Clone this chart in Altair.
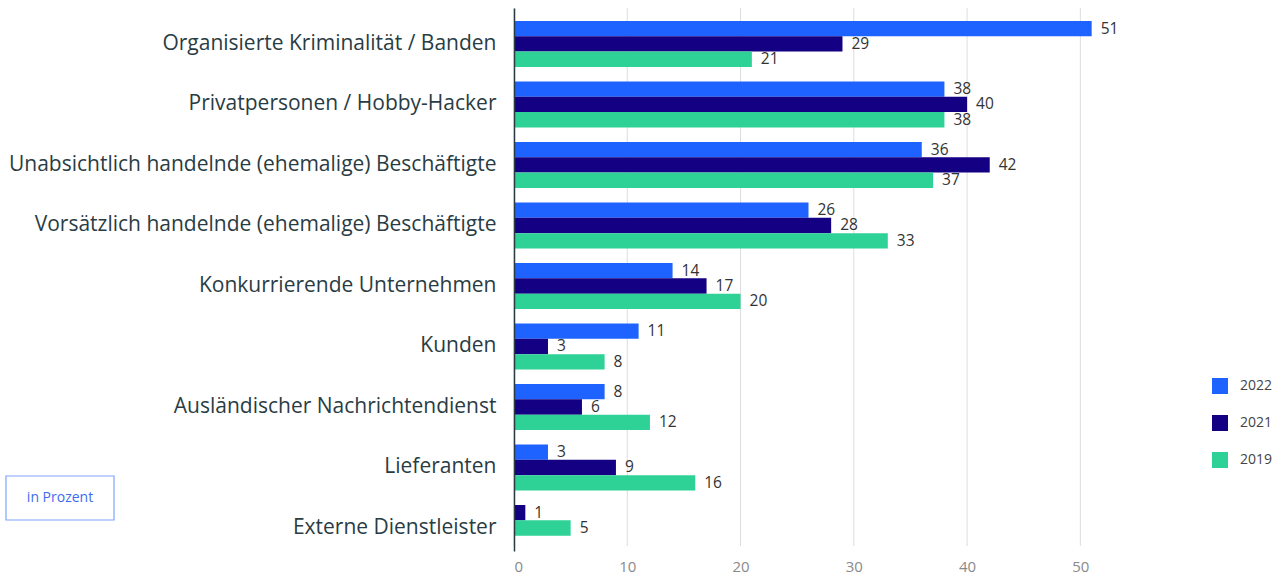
import altair as alt
import pandas as pd

categories = [
    "Organisierte Kriminalität / Banden",
    "Privatpersonen / Hobby-Hacker",
    "Unabsichtlich handelnde (ehemalige) Beschäftigte",
    "Vorsätzlich handelnde (ehemalige) Beschäftigte",
    "Konkurrierende Unternehmen",
    "Kunden",
    "Ausländischer Nachrichtendienst",
    "Lieferanten",
    "Externe Dienstleister",
]
years = ["2022", "2021", "2019"]
v2022 = [51, 38, 36, 26, 14, 11, 8, 3, None]
v2021 = [29, 40, 42, 28, 17, 3, 6, 9, 1]
v2019 = [21, 38, 37, 33, 20, 8, 12, 16, 5]
colors = ["#1e63ff", "#140082", "#2ed196"]
x_ticks = [0, 10, 20, 30, 40, 50]

# bars of each category are packed from the top (missing years leave no gap)
rows = []
for i, c in enumerate(categories):
    slot = 0
    for yr, vals in zip(years, [v2022, v2021, v2019]):
        v = vals[i]
        if v is not None:
            rows.append({"Kategorie": c, "Jahr": yr, "Wert": v, "Slot": slot})
            slot += 1
df = pd.DataFrame(rows)

yscale = alt.Scale(paddingInner=0.24, paddingOuter=0.107, align=1)
xscale = alt.Scale(domain=[0, 52], nice=False)

yenc = alt.Y(
    "Kategorie:N",
    sort=categories,
    scale=yscale,
    axis=alt.Axis(
        title=None,
        labelFontSize=21,
        labelFont="Open Sans",
        labelColor="#2a3c43",
        labelPadding=18,
        ticks=False,
        domainColor="#2a3c43",
        domainWidth=1.5,
        labelLimit=700,
        grid=False,
        zindex=2,
    ),
)
xenc = alt.X(
    "Wert:Q",
    scale=xscale,
    axis=alt.Axis(
        title=None,
        values=x_ticks,
        ticks=False,
        domain=False,
        grid=False,
        labelFontSize=15,
        labelFont="Open Sans",
        labelColor="#8a8a8a",
        labelPadding=8,
    ),
)
yoff = alt.YOffset("Slot:O", scale=alt.Scale(domain=[0, 1, 2]))

grid = alt.Chart(pd.DataFrame({"t": x_ticks})).mark_rule(
    color="#dddddd", strokeWidth=1
).encode(x=alt.X("t:Q"), y=alt.value(0), y2=alt.value(538))

bars = alt.Chart(df).mark_bar().encode(
    x=xenc,
    y=yenc,
    yOffset=yoff,
    color=alt.Color(
        "Jahr:N",
        sort=years,
        scale=alt.Scale(domain=years, range=colors),
        legend=alt.Legend(
            title=None,
            orient="none",
            legendX=698,
            legendY=370,
            symbolType="square",
            symbolSize=256,
            symbolStrokeWidth=0,
            symbolOpacity=1,
            labelFontSize=14,
            labelFont="Open Sans",
            labelColor="#444444",
            labelOffset=12,
            rowPadding=21,
        ),
    ),
)

labels = alt.Chart(df).mark_text(
    align="left", baseline="middle", dx=9, fontSize=15.5, font="Open Sans", color="#333333"
).encode(
    x="Wert:Q",
    y=alt.Y("Kategorie:N", sort=categories),
    yOffset=yoff,
    text="Wert:Q",
)

box = alt.Chart(pd.DataFrame({"t": ["in Prozent"]})).mark_rect(
    fill="white", stroke="#7ea4ff", strokeWidth=1.2
).encode(
    x=alt.value(-508), x2=alt.value(-400), y=alt.value(468), y2=alt.value(512)
)
box_text = alt.Chart(pd.DataFrame({"t": ["in Prozent"]})).mark_text(
    fontSize=14, font="Open Sans", color="#3d6cf0", align="center", baseline="middle"
).encode(x=alt.value(-454), y=alt.value(490), text="t:N")

chart = (
    alt.layer(grid, bars, labels, box, box_text)
    .properties(
        width=589,
        height=543,
        background="white",
        autosize=alt.AutoSizeParams(type="none"),
        padding={"left": 514, "top": 8, "right": 171, "bottom": 24},
    )
    .configure_view(stroke="transparent")
)

chart.save("out.html", embed_options={"renderer": "svg", "actions": False})
